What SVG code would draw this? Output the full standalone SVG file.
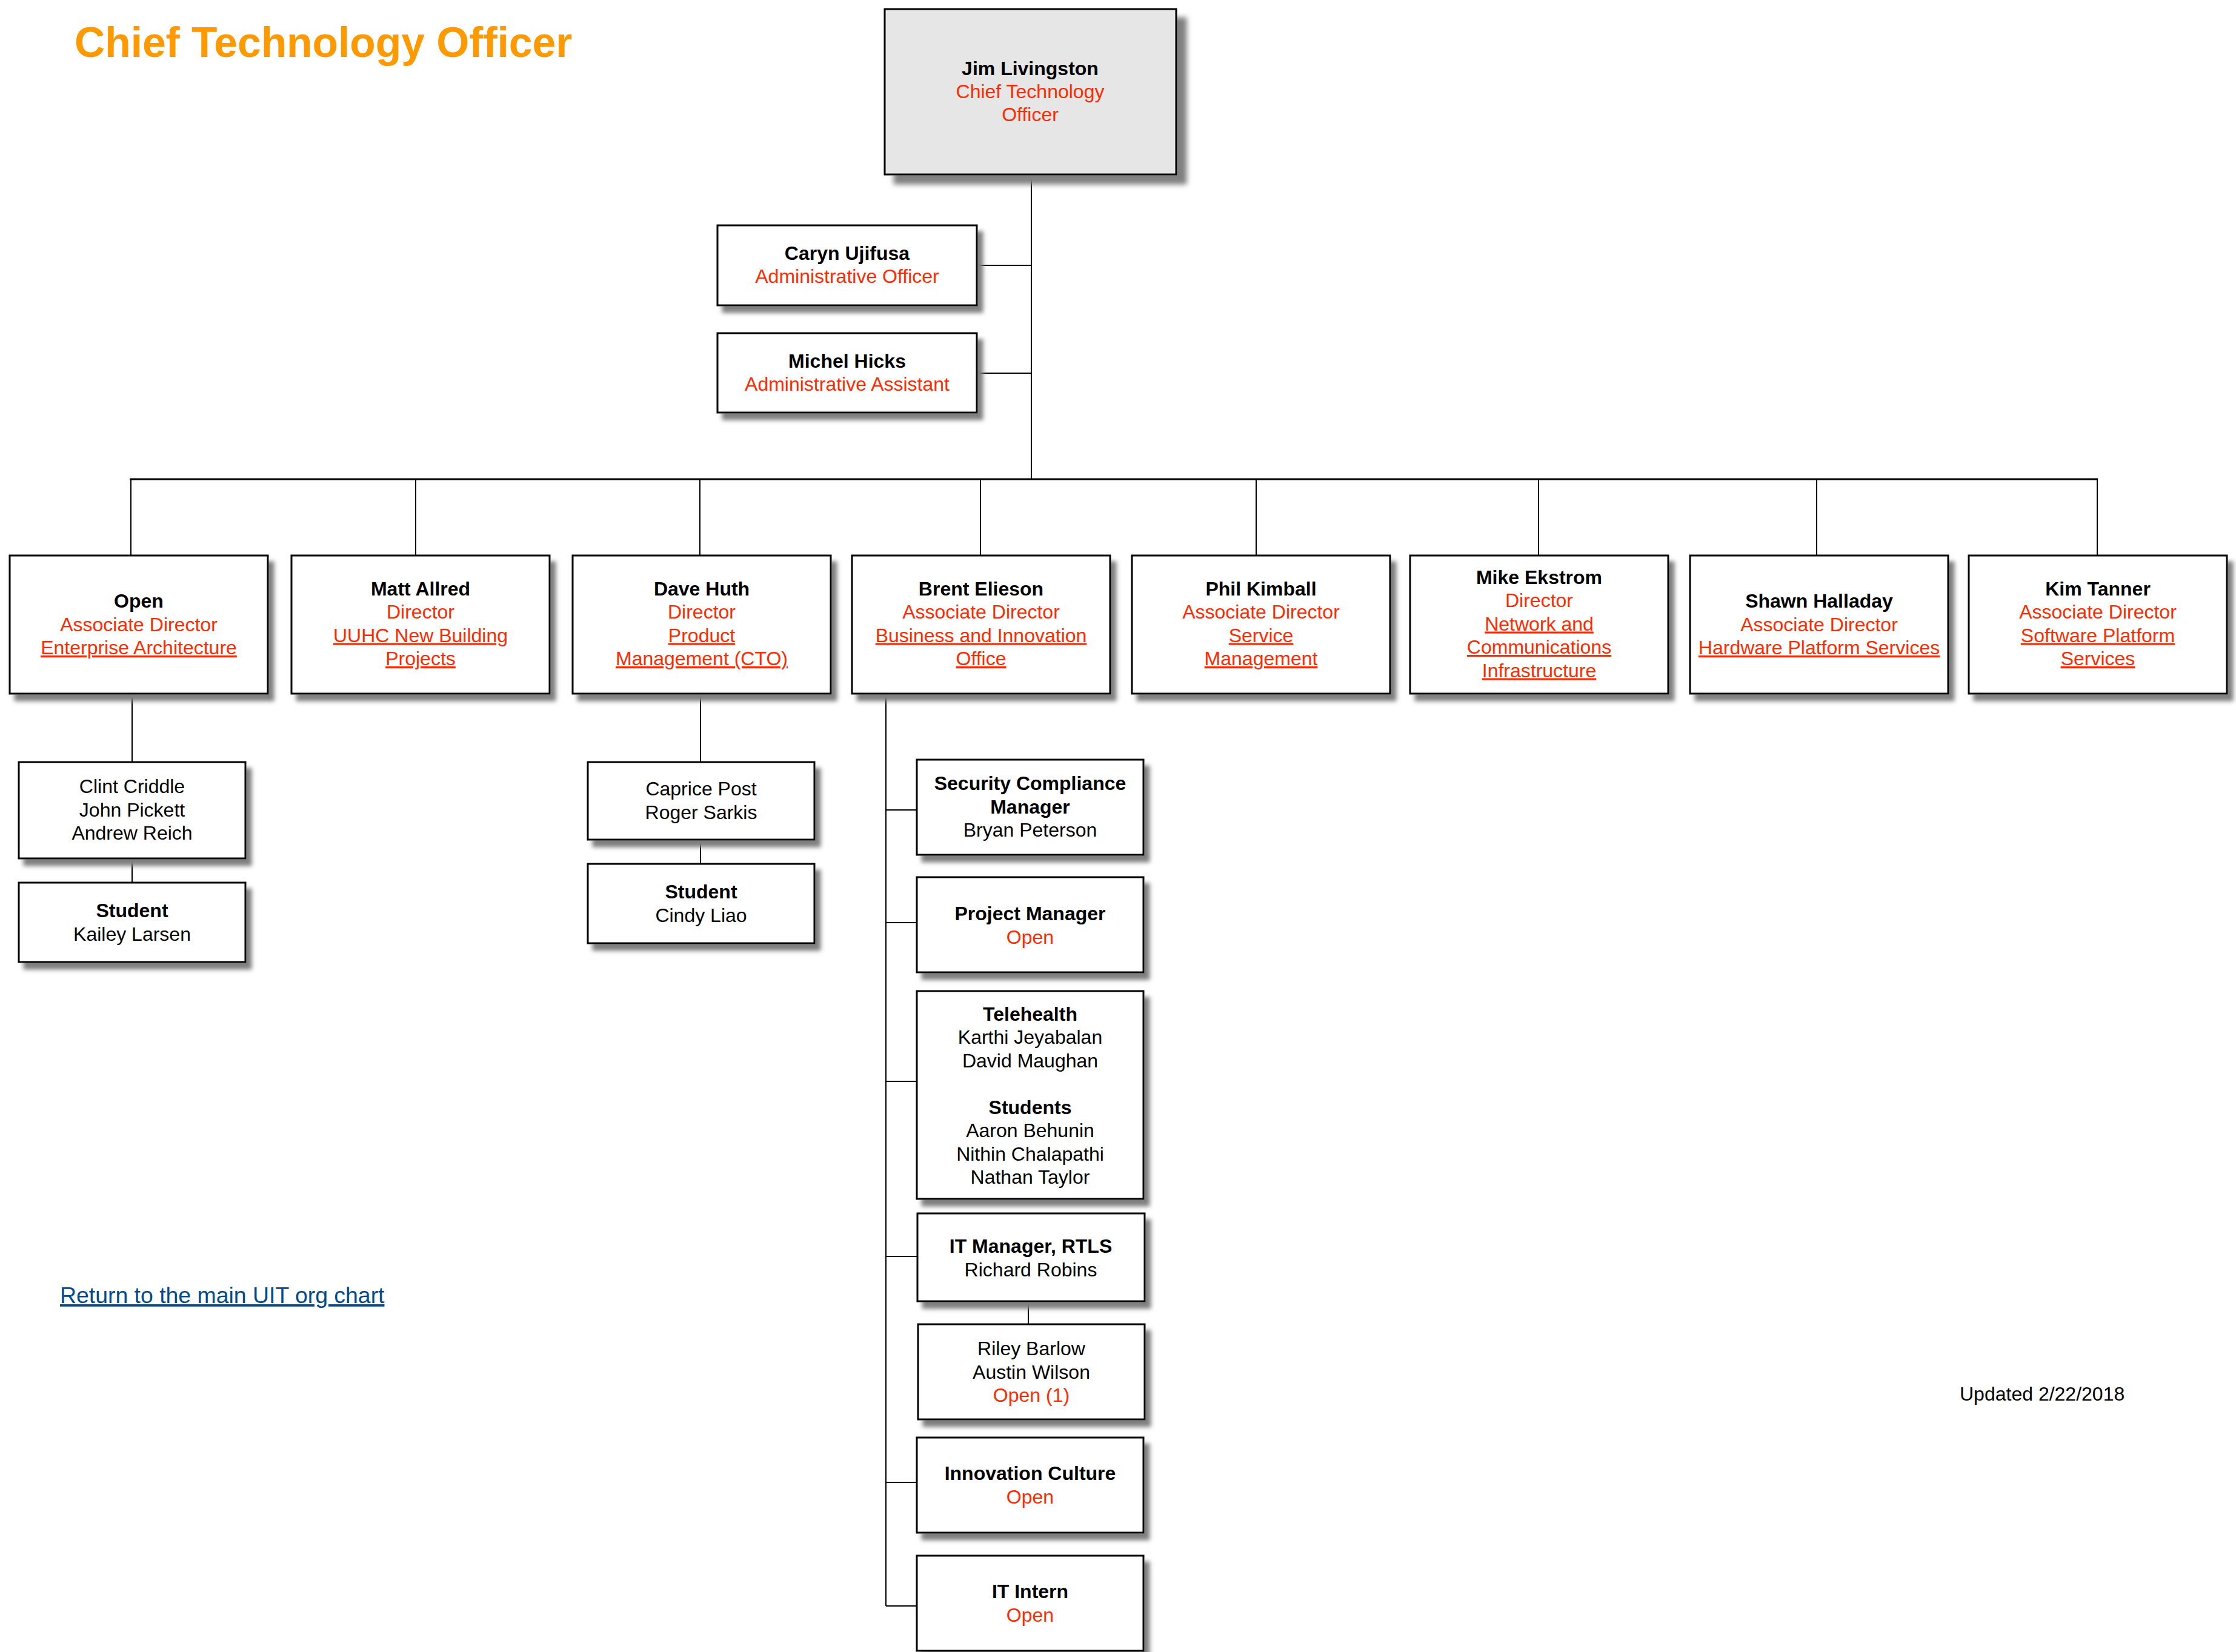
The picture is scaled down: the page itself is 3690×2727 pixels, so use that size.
<svg xmlns="http://www.w3.org/2000/svg" width="3690" height="2727" viewBox="0 0 3690 2727">
<defs>
<filter id="sh" x="-10%" y="-10%" width="130%" height="140%">
<feGaussianBlur in="SourceAlpha" stdDeviation="3.5"/>
<feOffset dx="9" dy="11" result="b"/>
<feFlood flood-color="#7f7f7f"/>
<feComposite in2="b" operator="in"/>
<feMerge><feMergeNode/><feMergeNode in="SourceGraphic"/></feMerge>
</filter>
<filter id="shc" x="-10%" y="-10%" width="130%" height="140%">
<feGaussianBlur in="SourceAlpha" stdDeviation="4"/>
<feOffset dx="16" dy="15" result="b"/>
<feFlood flood-color="#808080"/>
<feComposite in2="b" operator="in"/>
<feMerge><feMergeNode/><feMergeNode in="SourceGraphic"/></feMerge>
</filter>
</defs>
<style>
text{font-family:"Liberation Sans",Arial,Helvetica,sans-serif;font-size:32px;fill:#000}
.c{text-anchor:middle}
.b{font-weight:bold}
.r{fill:#FF2B00}
.u{text-decoration:underline}
.box{fill:#fff;stroke:#000;stroke-width:3;filter:url(#sh)}
.cto{fill:#e6e6e6;stroke:#000;stroke-width:3;filter:url(#shc)}
.ln{stroke:#000;stroke-width:2;fill:none}
.bus{stroke:#000;stroke-width:3;fill:none}
</style>
<rect width="3690" height="2727" fill="#fff"/>
<text x="123" y="94" style="font-size:69.5px;font-weight:bold;fill:#FF9900">Chief Technology Officer</text>
<text x="99" y="2151" class="u" style="font-size:37.4px;fill:#004B8D">Return to the main UIT org chart</text>
<text x="3234" y="2312">Updated 2/22/2018</text>

<g id="connectors">
<path class="ln" d="M1702 288V791M1612 438H1702M1612 616H1702"/>
<path class="bus" d="M214 791H3462"/>
<path class="ln" d="M216 791V917M686 791V917M1155 791V917M1618 791V917M2073 791V917M2539 791V917M2998 791V917M3461 791V917"/>
<path class="ln" d="M218 1145V1258M218 1417V1457"/>
<path class="ln" d="M1156 1145V1258M1156 1386V1426"/>
<path class="ln" d="M1462 1145V2651M1462 1337H1513M1462 1523H1513M1462 1785H1513M1462 2074H1514M1462 2447H1513M1462 2651H1513M1697 2148V2186"/>
</g>

<g id="cto">
<rect class="cto" x="1460" y="15" width="481" height="273"/>
<text class="c"><tspan x="1700" y="124" class="b">Jim Livingston</tspan><tspan x="1700" y="162" class="r">Chief Technology</tspan><tspan x="1700" y="200" class="r">Officer</tspan></text>
</g>
<g id="caryn">
<rect class="box" x="1184" y="372" width="428" height="132"/>
<text class="c"><tspan x="1398" y="429" class="b">Caryn Ujifusa</tspan><tspan x="1398" y="467" class="r">Administrative Officer</tspan></text>
</g>
<g id="michel">
<rect class="box" x="1184" y="550" width="428" height="131"/>
<text class="c"><tspan x="1398" y="607" class="b">Michel Hicks</tspan><tspan x="1398" y="645" class="r">Administrative Assistant</tspan></text>
</g>

<g id="n1">
<rect class="box" x="16" y="917" width="426" height="228"/>
<text class="c"><tspan x="229" y="1003" class="b">Open</tspan><tspan x="229" y="1041.5" class="r">Associate Director</tspan><tspan x="229" y="1080" class="r u">Enterprise Architecture</tspan></text>
</g>
<g id="n2">
<rect class="box" x="481" y="917" width="426" height="228"/>
<text class="c"><tspan x="694" y="982.5" class="b">Matt Allred</tspan><tspan x="694" y="1021" class="r">Director</tspan><tspan x="694" y="1059.5" class="r u">UUHC New Building</tspan><tspan x="694" y="1098" class="r u">Projects</tspan></text>
</g>
<g id="n3">
<rect class="box" x="945" y="917" width="426" height="228"/>
<text class="c"><tspan x="1158" y="982.5" class="b">Dave Huth</tspan><tspan x="1158" y="1021" class="r">Director</tspan><tspan x="1158" y="1059.5" class="r u">Product</tspan><tspan x="1158" y="1098" class="r u">Management (CTO)</tspan></text>
</g>
<g id="n4">
<rect class="box" x="1406" y="917" width="426" height="228"/>
<text class="c"><tspan x="1619" y="982.5" class="b">Brent Elieson</tspan><tspan x="1619" y="1021" class="r">Associate Director</tspan><tspan x="1619" y="1059.5" class="r u">Business and Innovation</tspan><tspan x="1619" y="1098" class="r u">Office</tspan></text>
</g>
<g id="n5">
<rect class="box" x="1868" y="917" width="426" height="228"/>
<text class="c"><tspan x="2081" y="982.5" class="b">Phil Kimball</tspan><tspan x="2081" y="1021" class="r">Associate Director</tspan><tspan x="2081" y="1059.5" class="r u">Service</tspan><tspan x="2081" y="1098" class="r u">Management</tspan></text>
</g>
<g id="n6">
<rect class="box" x="2327" y="917" width="426" height="228"/>
<text class="c"><tspan x="2540" y="963.5" class="b">Mike Ekstrom</tspan><tspan x="2540" y="1002" class="r">Director</tspan><tspan x="2540" y="1040.5" class="r u">Network and</tspan><tspan x="2540" y="1079" class="r u">Communications</tspan><tspan x="2540" y="1117.5" class="r u">Infrastructure</tspan></text>
</g>
<g id="n7">
<rect class="box" x="2789" y="917" width="426" height="228"/>
<text class="c"><tspan x="3002" y="1003" class="b">Shawn Halladay</tspan><tspan x="3002" y="1041.5" class="r">Associate Director</tspan><tspan x="3002" y="1080" class="r u">Hardware Platform Services</tspan></text>
</g>
<g id="n8">
<rect class="box" x="3249" y="917" width="426" height="228"/>
<text class="c"><tspan x="3462" y="982.5" class="b">Kim Tanner</tspan><tspan x="3462" y="1021" class="r">Associate Director</tspan><tspan x="3462" y="1059.5" class="r u">Software Platform</tspan><tspan x="3462" y="1098" class="r u">Services</tspan></text>
</g>

<g id="ea-staff">
<rect class="box" x="31" y="1258" width="374" height="159"/>
<text class="c"><tspan x="218" y="1309">Clint Criddle</tspan><tspan x="218" y="1347.5">John Pickett</tspan><tspan x="218" y="1386">Andrew Reich</tspan></text>
</g>
<g id="ea-student">
<rect class="box" x="31" y="1457" width="374" height="131"/>
<text class="c"><tspan x="218" y="1514" class="b">Student</tspan><tspan x="218" y="1552.5">Kailey Larsen</tspan></text>
</g>
<g id="pm-staff">
<rect class="box" x="970" y="1258" width="374" height="128"/>
<text class="c"><tspan x="1157" y="1313">Caprice Post</tspan><tspan x="1157" y="1351.5">Roger Sarkis</tspan></text>
</g>
<g id="pm-student">
<rect class="box" x="970" y="1426" width="374" height="131"/>
<text class="c"><tspan x="1157" y="1483" class="b">Student</tspan><tspan x="1157" y="1521.5">Cindy Liao</tspan></text>
</g>

<g id="security">
<rect class="box" x="1513" y="1254" width="374" height="157"/>
<text class="c"><tspan x="1700" y="1304" class="b">Security Compliance</tspan><tspan x="1700" y="1342.5" class="b">Manager</tspan><tspan x="1700" y="1381">Bryan Peterson</tspan></text>
</g>
<g id="project-manager">
<rect class="box" x="1513" y="1448" width="374" height="157"/>
<text class="c"><tspan x="1700" y="1519" class="b">Project Manager</tspan><tspan x="1700" y="1557.5" class="r">Open</tspan></text>
</g>
<g id="telehealth">
<rect class="box" x="1513" y="1636" width="374" height="343"/>
<text class="c"><tspan x="1700" y="1684.5" class="b">Telehealth</tspan><tspan x="1700" y="1723">Karthi Jeyabalan</tspan><tspan x="1700" y="1761.5">David Maughan</tspan><tspan x="1700" y="1838.5" class="b">Students</tspan><tspan x="1700" y="1877">Aaron Behunin</tspan><tspan x="1700" y="1915.5">Nithin Chalapathi</tspan><tspan x="1700" y="1954">Nathan Taylor</tspan></text>
</g>
<g id="rtls">
<rect class="box" x="1514" y="2003" width="375" height="145"/>
<text class="c"><tspan x="1701" y="2068" class="b">IT Manager, RTLS</tspan><tspan x="1701" y="2106.5">Richard Robins</tspan></text>
</g>
<g id="rtls-staff">
<rect class="box" x="1515" y="2186" width="374" height="157"/>
<text class="c"><tspan x="1702" y="2237">Riley Barlow</tspan><tspan x="1702" y="2275.5">Austin Wilson</tspan><tspan x="1702" y="2314" class="r">Open (1)</tspan></text>
</g>
<g id="innovation">
<rect class="box" x="1513" y="2373" width="374" height="157"/>
<text class="c"><tspan x="1700" y="2443" class="b">Innovation Culture</tspan><tspan x="1700" y="2481.5" class="r">Open</tspan></text>
</g>
<g id="intern">
<rect class="box" x="1513" y="2568" width="374" height="157"/>
<text class="c"><tspan x="1700" y="2638" class="b">IT Intern</tspan><tspan x="1700" y="2676.5" class="r">Open</tspan></text>
</g>
</svg>
